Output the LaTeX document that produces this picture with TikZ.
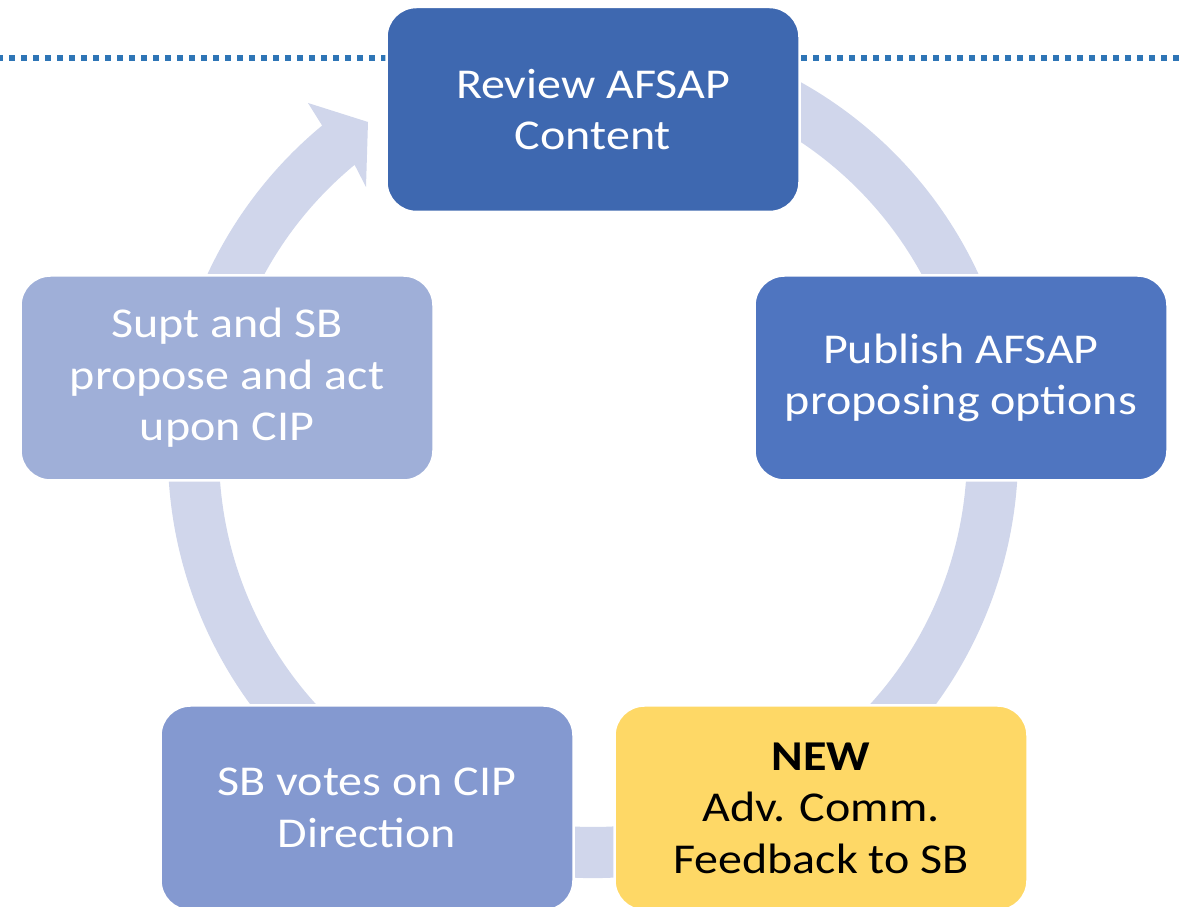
\documentclass[tikz,border=0pt]{standalone}
\usepackage{fontspec}
\setmainfont{Carlito}[FakeStretch=1.13]
\usetikzlibrary{calc}
\definecolor{ringc}{RGB}{208,214,235}
\definecolor{cone}{RGB}{62,104,176}
\definecolor{ctwo}{RGB}{79,117,192}
\definecolor{cthree}{RGB}{254,216,102}
\definecolor{cfour}{RGB}{132,153,208}
\definecolor{cfive}{RGB}{159,175,216}
\definecolor{dotc}{RGB}{46,117,182}
\begin{document}
\begin{tikzpicture}[x=1pt,y=1pt,
  box/.style={rectangle, rounded corners=30pt, minimum width=413pt, minimum height=205pt,
    draw=white, line width=2.5pt, align=center, font=\fontsize{42.5}{51.5}\selectfont,
    text=white, inner sep=0pt},
  ring/.style={fill=ringc}
]
\useasboundingbox (0,0) rectangle (1181,907);
% dotted line
\draw[dotc, line width=5.7pt, dash pattern=on 6pt off 6pt] (-3,849) -- (1190,849);
% circular arrow
\coordinate (c) at (593,454);
\coordinate (ob) at (308,804);
\coordinate (tip) at (368,785);
\coordinate (ib) at (366,720);
\fill[ring] ($(c)+(70:425pt)$) arc[start angle=70, end angle=-230.4, radius=425pt]
   -- (ob) -- (tip) -- (ib) -- ($(c)+(129.6:374pt)$)
   arc[start angle=129.6, end angle=430, radius=374pt] -- cycle;
% boxes
\node[box, fill=cone] (review) at (593,797.5) {Review AFSAP\\Content};
\node[box, fill=ctwo] (publish) at (961,529) {Publish AFSAP\\proposing options};
\node[box, fill=cthree, text=black] (feedback) at (821,99) {\textbf{NEW}\\Adv. Comm.\\Feedback to SB};
\node[box, fill=cfour] (votes) at (367,99) {SB votes on CIP\\Direction};
\node[box, fill=cfive] (supt) at (227,529) {Supt and SB\\propose and act\\upon CIP};
\end{tikzpicture}
\end{document}
